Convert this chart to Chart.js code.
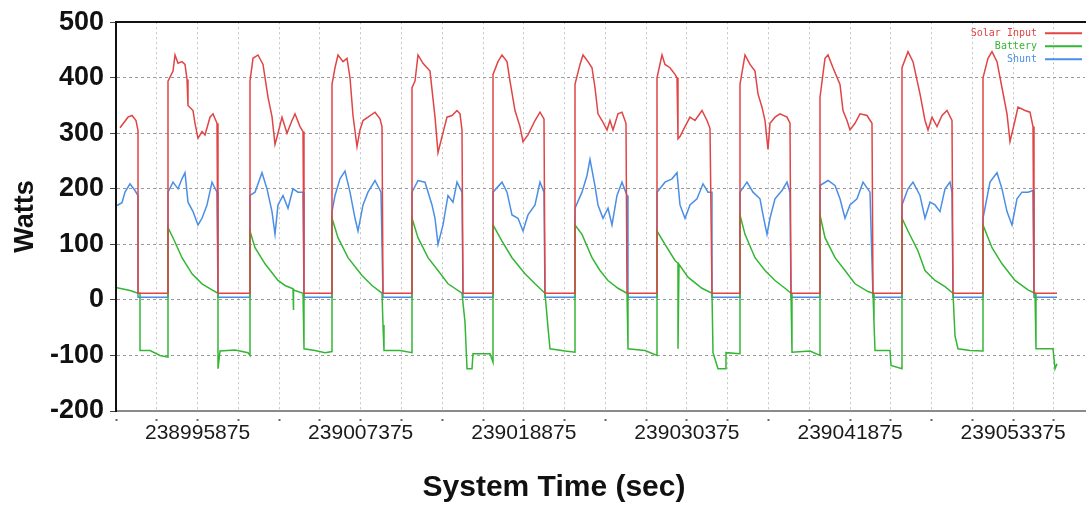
<!DOCTYPE html>
<html>
<head>
<meta charset="utf-8">
<title>Solar input, battery and shunt power</title>
<script src="https://cdn.jsdelivr.net/npm/chart.js@4/dist/chart.umd.min.js"></script>
<style>
  html, body { margin: 0; background: #fff; }
  #chart { display: block; }
</style>
</head>
<body>
<canvas id="chart" width="1087" height="505"></canvas>
<script>
const LOG_START = 238990125; // system time at the left edge of the plot (sec)
const LOG_END = 239058440;
const TICK_STEP = 2875;

const xTickLabels = ['238995875', '239007375', '239018875', '239030375', '239041875', '239053375'];
const WATTS_MIN = -200;
const WATTS_MAX = 500;
const WATTS_STEP = 100;

const seriesNames = ['Solar Input', 'Battery', 'Shunt'];
const seriesColors = ['#e04444', '#33b633', '#4a8ee6'];

// [seconds since LOG_START, watts]
const solarInput = [
  [282, 310], [846, 329], [1128, 332], [1410, 323], [1551, 305], [1551, 12], [3666, 12],
  [3666, 394], [4019, 412], [4160, 441], [4371, 426], [4653, 429], [4865, 424], [5006, 397], [5076, 350],
  [5429, 341], [5570, 318], [5781, 291], [6063, 303], [6275, 297], [6627, 329], [6839, 335], [7121, 318],
  [7191, 318], [7191, 12], [9447, 12],
  [9447, 394], [9659, 435], [10011, 441], [10364, 424], [10716, 365], [10998, 330], [11210, 280], [11421, 300],
  [11703, 329], [12056, 300], [12408, 323], [12620, 335], [12972, 312], [13184, 303], [13254, 12], [15228, 12],
  [15228, 388], [15440, 418], [15651, 441], [16004, 429], [16286, 435], [16497, 400], [16709, 332], [16991, 276],
  [17202, 306], [17414, 323], [17766, 329], [18260, 338], [18612, 326], [18753, 312], [18824, 12], [20868, 12],
  [20868, 382], [21080, 394], [21291, 441], [21644, 426], [22137, 412], [22490, 329], [22701, 265], [22983, 294],
  [23336, 329], [23688, 332], [24041, 341], [24252, 335], [24393, 306], [24464, 12], [26579, 12],
  [26579, 406], [26931, 429], [27213, 441], [27566, 429], [27777, 394], [28130, 341], [28482, 312], [28694, 285],
  [29046, 297], [29540, 323], [29892, 338], [30174, 326], [30245, 12], [32360, 12],
  [32360, 388], [32712, 424], [32924, 441], [33276, 429], [33558, 418], [33770, 382], [33981, 335], [34263, 323],
  [34616, 306], [34827, 323], [35039, 306], [35391, 335], [35673, 338], [35955, 318], [36026, 12], [38141, 12],
  [38141, 400], [38493, 441], [38705, 424], [39057, 418], [39410, 406], [39551, 400], [39621, 290], [39762, 294],
  [40115, 312], [40467, 329], [40820, 323], [41313, 341], [41666, 323], [41877, 309], [42018, 12], [43992, 12],
  [43992, 388], [44345, 441], [44697, 424], [45050, 412], [45261, 371], [45543, 347], [45755, 323], [45966, 271],
  [46107, 318], [46460, 329], [46812, 335], [47306, 329], [47517, 318], [47588, 12], [49632, 12],
  [49632, 365], [49985, 435], [50196, 441], [50549, 418], [51042, 388], [51254, 341], [51536, 323], [51747, 306],
  [52100, 318], [52452, 335], [52946, 332], [53298, 318], [53369, 12], [55413, 12],
  [55413, 418], [55836, 447], [56189, 429], [56682, 371], [57035, 323], [57246, 306], [57528, 329], [57881, 312],
  [58233, 332], [58586, 341], [58938, 323], [59009, 12], [61124, 12],
  [61124, 400], [61476, 435], [61758, 447], [62111, 429], [62463, 382], [62816, 335], [63027, 285], [63380, 323],
  [63591, 347], [64085, 341], [64437, 338], [64649, 312], [64719, 12], [66341, 12]
];

const battery = [
  [71, 22], [987, 17], [1551, 12], [1692, 12], [1692, -91], [2397, -91], [3102, -100], [3666, -103],
  [3666, 130], [4019, 112], [4653, 76], [5358, 47], [6063, 29], [6768, 18], [7191, 12], [7191, -124],
  [7332, -92], [8390, -90], [9306, -95], [9447, -100],
  [9447, 124], [9800, 94], [10505, 65], [11421, 35], [11915, 26], [12479, 20], [12479, -18], [12549, 18],
  [13184, 12], [13254, -88], [14030, -91], [14735, -95], [15228, -93],
  [15228, 147], [15651, 112], [16356, 76], [17343, 44], [18048, 26], [18753, 12], [18824, -45], [18894, -91],
  [20022, -91], [20868, -95],
  [20868, 147], [21291, 112], [21996, 76], [22701, 53], [23406, 29], [24393, 12], [24605, -40], [24746, -124],
  [25098, -124], [25169, -97], [26367, -97], [26579, -112],
  [26579, 135], [27213, 106], [27918, 76], [28835, 47], [29540, 29], [30245, 12], [30456, -50], [30597, -88],
  [31655, -92], [32360, -94],
  [32360, 135], [32853, 118], [33558, 76], [34122, 53], [34686, 35], [35391, 21], [36026, 12], [36096, -88],
  [37295, -91], [38141, -100],
  [38141, 124], [38705, 100], [39410, 71], [39621, 66], [39621, -88], [39692, 64], [40326, 41], [41313, 21],
  [42018, 12], [42089, -95], [42441, -124], [42935, -124], [43005, -95], [43992, -97],
  [43992, 153], [44345, 118], [45050, 76], [45755, 53], [46460, 35], [47165, 21], [47588, 12], [47658, -94],
  [48927, -92], [49632, -100],
  [49632, 153], [49985, 112], [50690, 76], [51395, 53], [52100, 29], [53016, 15], [53369, 12], [53439, -40],
  [53510, -91], [54567, -91], [54638, -118], [55413, -124],
  [55413, 147], [55836, 124], [56541, 88], [57035, 53], [57740, 35], [58445, 24], [59009, 12], [59150, -65],
  [59361, -88], [60207, -91], [61124, -92],
  [61124, 135], [61758, 94], [62463, 65], [63380, 35], [64296, 18], [64790, 12], [64860, -88], [66059, -88],
  [66200, -124], [66341, -115]
];

const shunt = [
  [71, 170], [423, 175], [635, 194], [987, 209], [1340, 197], [1551, 188], [1551, 5], [3666, 5],
  [3666, 194], [4019, 212], [4371, 200], [4653, 218], [4865, 229], [5076, 176], [5429, 159], [5781, 135],
  [6063, 147], [6416, 171], [6768, 212], [7121, 194], [7191, 194], [7191, 5], [9447, 5],
  [9447, 188], [9800, 194], [10293, 229], [10646, 200], [10998, 159], [11210, 118], [11421, 171], [11774, 188],
  [12126, 165], [12479, 200], [12831, 194], [13184, 194], [13254, 5], [15228, 5],
  [15228, 159], [15440, 188], [15792, 218], [16145, 232], [16497, 194], [16850, 147], [17061, 124], [17414, 171],
  [17766, 194], [18260, 215], [18683, 194], [18824, 5], [20868, 5],
  [20868, 194], [21291, 215], [21785, 212], [22278, 171], [22490, 147], [22701, 100], [23054, 135], [23406, 188],
  [23759, 176], [24041, 212], [24393, 194], [24464, 5], [26579, 5],
  [26579, 194], [27213, 212], [27566, 194], [27918, 153], [28341, 147], [28694, 124], [29046, 153], [29540, 171],
  [29892, 212], [30174, 194], [30245, 5], [32360, 5],
  [32360, 165], [32853, 194], [33206, 224], [33417, 253], [33770, 205], [33981, 171], [34334, 147], [34686, 165],
  [34968, 135], [35321, 188], [35673, 212], [36026, 188], [36096, 5], [38141, 5],
  [38141, 194], [38705, 212], [39198, 218], [39551, 229], [39762, 171], [40115, 147], [40467, 171], [40961, 182],
  [41384, 209], [41736, 194], [42018, 194], [42018, 5], [43992, 5],
  [43992, 194], [44486, 212], [44909, 194], [45402, 182], [45614, 153], [45896, 118], [46107, 147], [46460, 182],
  [46953, 197], [47306, 212], [47517, 194], [47588, 5], [49632, 5],
  [49632, 206], [50196, 215], [50690, 206], [51042, 182], [51395, 147], [51747, 171], [52241, 182], [52664, 212],
  [53157, 194], [53369, 5], [55413, 5],
  [55413, 171], [55836, 200], [56189, 212], [56682, 188], [57035, 147], [57387, 176], [57740, 171], [58092, 159],
  [58445, 200], [58797, 212], [58938, 194], [59009, 5], [61124, 5],
  [61124, 147], [61617, 212], [62111, 229], [62463, 200], [62816, 159], [63168, 135], [63521, 182], [63873, 194],
  [64296, 194], [64649, 197], [64719, 5], [66341, 5]
];

const FONT = "'Liberation Sans', Arial, sans-serif";

const toPoints = rows => rows.map(([t, w]) => ({ x: LOG_START + t, y: w }));

// legend in the top right corner: coloured name, then a short line sample
const cornerLegend = {
  id: 'cornerLegend',
  afterDraw(chart) {
    const { ctx, chartArea } = chart;
    ctx.save();
    ctx.font = "10px 'DejaVu Sans Mono', monospace";
    ctx.textAlign = 'right';
    ctx.textBaseline = 'middle';
    chart.data.datasets.forEach((ds, i) => {
      const y = chartArea.top + 11 + i * 13;
      ctx.fillStyle = ds.borderColor;
      ctx.fillText(ds.label, chartArea.right - 48, y);
      ctx.strokeStyle = ds.borderColor;
      ctx.lineWidth = 2;
      ctx.beginPath();
      ctx.moveTo(chartArea.right - 40, y);
      ctx.lineTo(chartArea.right - 3, y);
      ctx.stroke();
    });
    ctx.restore();
  }
};

const xAxisTitle = {
  id: 'xAxisTitle',
  afterDraw(chart) {
    const { ctx, chartArea } = chart;
    ctx.save();
    ctx.font = 'bold 30px ' + FONT;
    ctx.fillStyle = '#111';
    ctx.textAlign = 'center';
    ctx.textBaseline = 'middle';
    ctx.fillText('System Time (sec)', chartArea.left + 438, 488);
    ctx.restore();
  }
};

new Chart(document.getElementById('chart'), {
  type: 'line',
  data: {
    datasets: [solarInput, battery, shunt].map((rows, i) => ({
      label: seriesNames[i],
      data: toPoints(rows),
      borderColor: seriesColors[i],
      backgroundColor: seriesColors[i],
      borderWidth: 1.5,
      pointRadius: 0,
      fill: false,
      tension: 0
    }))
  },
  options: {
    responsive: false,
    animation: false,
    layout: { padding: { top: 15, right: 2, bottom: 0, left: 0 } },
    plugins: {
      legend: { display: false },
      tooltip: { enabled: false }
    },
    scales: {
      x: {
        type: 'linear',
        position: 'bottom',
        min: LOG_START,
        max: LOG_END,
        afterBuildTicks: scale => {
          const ticks = [];
          for (let v = LOG_START; v <= LOG_END; v += TICK_STEP) ticks.push({ value: v });
          scale.ticks = ticks;
        },
        afterFit: scale => { scale.height = 94; },
        ticks: {
          autoSkip: false,
          maxRotation: 0,
          padding: 0,
          color: '#1a1a1a',
          font: { family: FONT, size: 21 },
          callback: v => (xTickLabels.includes(String(v)) ? String(v) : '')
        },
        grid: {
          color: '#c4c4c4',
          lineWidth: 1,
          tickLength: 10,
          tickColor: '#666',
          tickWidth: 2,
          tickBorderDash: [0, 7, 3]
        },
        border: { color: '#8a8a8a', width: 2, dash: [2, 3] }
      },
      xTop: {
        type: 'linear',
        axis: 'x',
        position: 'top',
        afterFit: scale => { scale.height = 0; },
        ticks: { display: false },
        grid: { display: false },
        border: { color: '#111', width: 2 }
      },
      y: {
        min: WATTS_MIN,
        max: WATTS_MAX,
        afterFit: scale => { scale.width = 116; },
        ticks: {
          stepSize: WATTS_STEP,
          padding: 6,
          color: '#111',
          font: { family: FONT, size: 27, weight: 'bold' }
        },
        grid: {
          color: '#9a9a9a',
          lineWidth: 1,
          tickLength: 6,
          tickColor: '#444',
          tickBorderDash: []
        },
        border: { color: '#111', width: 2, dash: [3, 3] },
        title: {
          display: true,
          text: 'Watts',
          color: '#111',
          padding: { top: 9, bottom: 0 },
          font: { family: FONT, size: 27, weight: 'bold' }
        }
      }
    }
  },
  plugins: [cornerLegend, xAxisTitle]
});
</script>
</body>
</html>
